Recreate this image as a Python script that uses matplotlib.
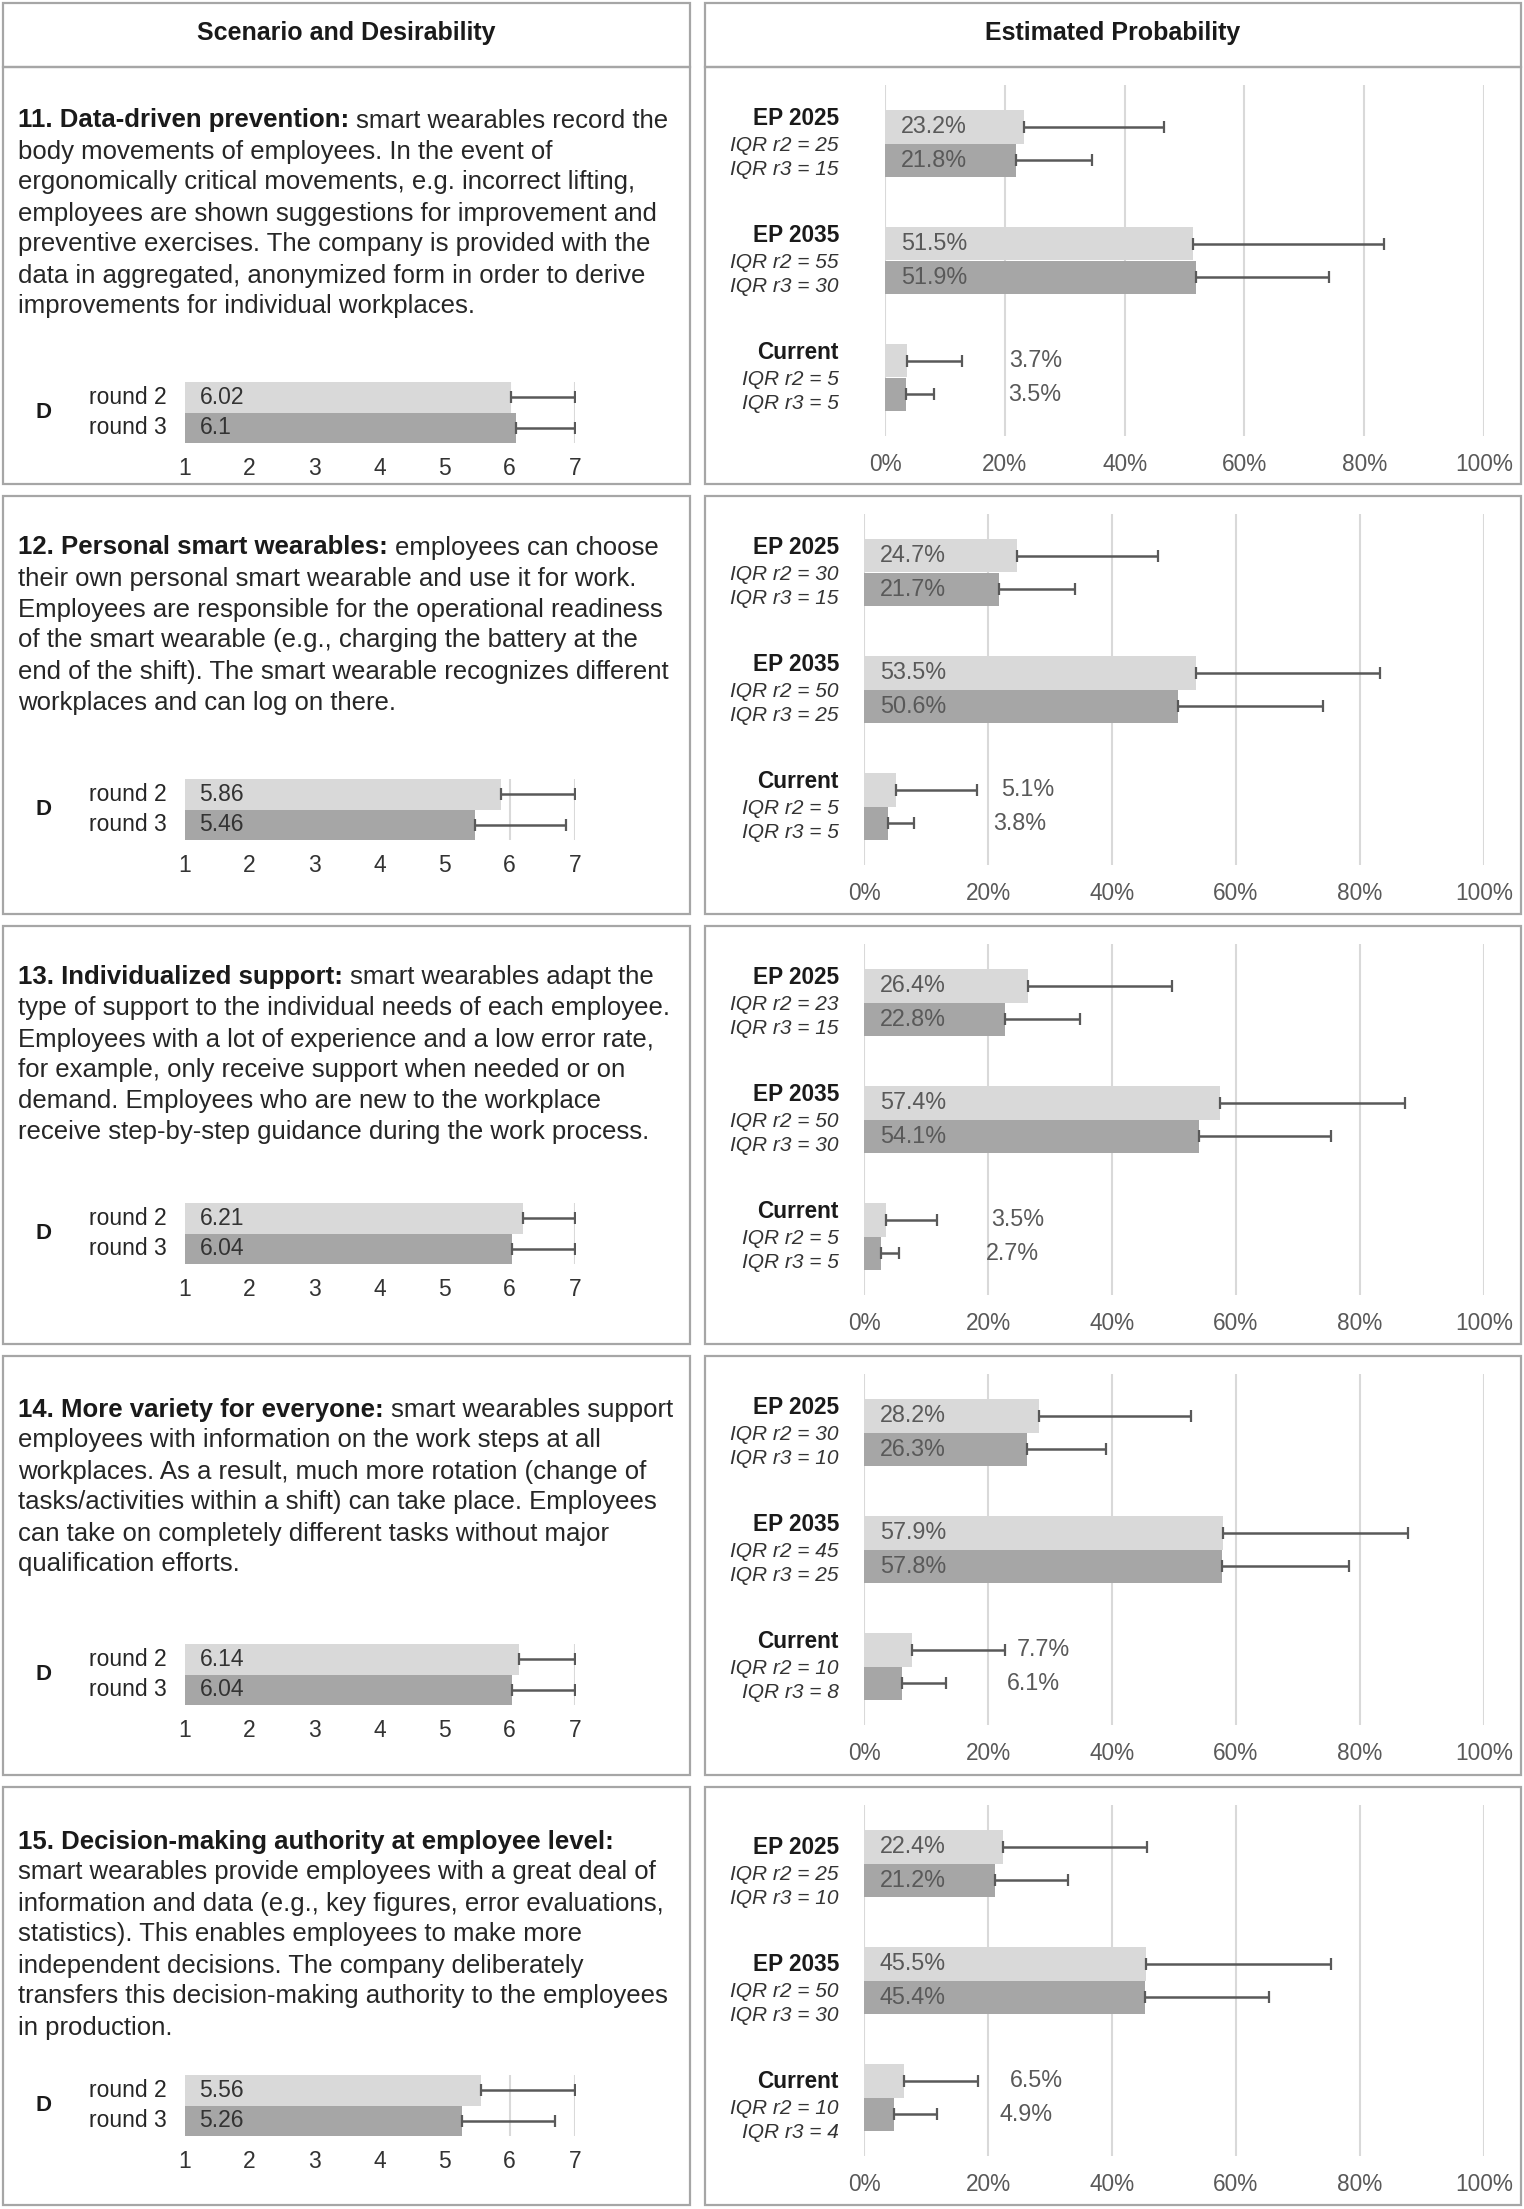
import matplotlib
matplotlib.use("Agg")
import matplotlib.pyplot as plt
from matplotlib.patches import Rectangle
import numpy as np

plt.rcParams['font.family'] = ['Liberation Sans', 'DejaVu Sans']

# data
titles = ["11. Data-driven prevention:",
          "12. Personal smart wearables:",
          "13. Individualized support:",
          "14. More variety for everyone:",
          "15. Decision-making authority at employee level:"]
first_rest = ["smart wearables record the",
              "employees can choose",
              "smart wearables adapt the",
              "smart wearables support",
              ""]
more_lines = [
    ["body movements of employees. In the event of",
     "ergonomically critical movements, e.g. incorrect lifting,",
     "employees are shown suggestions for improvement and",
     "preventive exercises. The company is provided with the",
     "data in aggregated, anonymized form in order to derive",
     "improvements for individual workplaces."],
    ["their own personal smart wearable and use it for work.",
     "Employees are responsible for the operational readiness",
     "of the smart wearable (e.g., charging the battery at the",
     "end of the shift). The smart wearable recognizes different",
     "workplaces and can log on there."],
    ["type of support to the individual needs of each employee.",
     "Employees with a lot of experience and a low error rate,",
     "for example, only receive support when needed or on",
     "demand. Employees who are new to the workplace",
     "receive step-by-step guidance during the work process."],
    ["employees with information on the work steps at all",
     "workplaces. As a result, much more rotation (change of",
     "tasks/activities within a shift) can take place. Employees",
     "can take on completely different tasks without major",
     "qualification efforts."],
    ["smart wearables provide employees with a great deal of",
     "information and data (e.g., key figures, error evaluations,",
     "statistics). This enables employees to make more",
     "independent decisions. The company deliberately",
     "transfers this decision-making authority to the employees",
     "in production."],
]

d_round2 = [6.02, 5.86, 6.21, 6.14, 5.56]
d_round3 = [6.1, 5.46, 6.04, 6.04, 5.26]
d_upper2 = [7, 7, 7, 7, 7]
d_upper3 = [7, 6.87, 7, 7, 6.7]

groups = ["EP 2025", "EP 2035", "Current"]
ep_r2 = [[23.2, 51.5, 3.7], [24.7, 53.5, 5.1], [26.4, 57.4, 3.5], [28.2, 57.9, 7.7], [22.4, 45.5, 6.5]]
ep_r3 = [[21.8, 51.9, 3.5], [21.7, 50.6, 3.8], [22.8, 54.1, 2.7], [26.3, 57.8, 6.1], [21.2, 45.4, 4.9]]
up_r2 = [[46.6, 83.3, 12.8], [47.4, 83.3, 18.2], [49.7, 87.3, 11.7], [52.8, 87.7, 22.7], [45.6, 75.3, 18.4]]
up_r3 = [[34.5, 74.1, 8.2], [34.0, 74.0, 8.1], [34.8, 75.4, 5.6], [39.1, 78.2, 13.2], [32.9, 65.3, 11.7]]
iqr_r2 = [[25, 55, 5], [30, 50, 5], [23, 50, 5], [30, 45, 10], [25, 50, 10]]
iqr_r3 = [[15, 30, 5], [15, 25, 5], [15, 30, 5], [10, 25, 8], [10, 30, 4]]

LIGHT = '#d9d9d9'
DARK = '#a6a6a6'
GRID = '#d9d9d9'
ERR = '#595959'
LINE = '#a6a6a6'

W, H = 1524, 2209
fig = plt.figure(figsize=(W / 100, H / 100), dpi=100)
renderer = fig.canvas.get_renderer()


def fx(x):
    return x / W


def fy(y):
    return 1 - y / H


def px_axes(x0, y0, x1, y1):
    return fig.add_axes([fx(x0), fy(y1), (x1 - x0) / W, (y1 - y0) / H])


def cell(x0, y0, x1, y1):
    fig.add_artist(Rectangle((fx(x0), fy(y1)), (x1 - x0) / W, (y1 - y0) / H,
                             transform=fig.transFigure, fill=False,
                             edgecolor=LINE, lw=1.6))


row_top = [67, 496, 926, 1356, 1787]
row_bot = [484, 914, 1344, 1775, 2205]
text_off = [51, 49, 49, 51, 52]
d_off = [315, 283, 277, 288, 288]
ep_x0 = [885, 864, 864, 864, 864]
label_shift = [0, 0, 0, 0, 9]

# table frame
cell(3, 3, 690, 67)
cell(705, 3, 1521, 67)
for i in range(5):
    cell(3, row_top[i], 690, row_bot[i])
    cell(705, row_top[i], 1521, row_bot[i])

fig.text(fx(346), fy(33), "Scenario and Desirability", ha='center', va='center',
         fontsize=18, fontweight='bold', color='#1a1a1a')
fig.text(fx(1113), fy(33), "Estimated Probability", ha='center', va='center',
         fontsize=18, fontweight='bold', color='#1a1a1a')

TXT = 18.5
for i in range(5):
    y = row_top[i] + text_off[i]
    t = fig.text(fx(18), fy(y), titles[i], ha='left', va='center_baseline',
                 fontsize=TXT, fontweight='bold', color='#1a1a1a')
    if first_rest[i]:
        bb = t.get_window_extent(renderer)
        fig.text(fx(bb.x1 + 7), fy(y), first_rest[i], ha='left',
                 va='center_baseline', fontsize=TXT, color='#262626')
    for j, line in enumerate(more_lines[i]):
        fig.text(fx(18), fy(y + 31 * (j + 1)), line, ha='left',
                 va='center_baseline', fontsize=TXT, color='#262626')

    # desirability chart
    top = row_top[i] + d_off[i]
    ax = px_axes(184.5, top, 574.7, top + 61)
    vals = [d_round2[i], d_round3[i]]
    ups = [d_upper2[i], d_upper3[i]]
    ypos = [0, 1]
    for k in range(2):
        ax.barh(ypos[k], vals[k] - 1, left=1, height=1.0,
                color=[LIGHT, DARK][k], zorder=2,
                xerr=[[0], [ups[k] - vals[k]]],
                error_kw=dict(ecolor=ERR, elinewidth=1.8, capsize=4, capthick=1.6, zorder=3))
        ax.annotate(f"{vals[k]:g}", xy=(1, ypos[k]), xytext=(15, 0),
                    textcoords='offset pixels', ha='left', va='center',
                    fontsize=16.5, color='#333333', zorder=4)
        ax.annotate(["round 2", "round 3"][k], xy=(1, ypos[k]), xytext=(-18, 0),
                    textcoords='offset pixels', ha='right', va='center',
                    fontsize=16.5, color='#262626', annotation_clip=False)
    ax.annotate("D", xy=(1, 0.5), xytext=(-141, 0), textcoords='offset pixels',
                ha='center', va='center', fontsize=16, fontweight='bold',
                color='#1a1a1a', annotation_clip=False)
    ax.set_xlim(1, 7)
    ax.set_ylim(1.5, -0.5)
    ax.set_xticks(range(1, 8))
    ax.set_yticks([])
    ax.grid(axis='x', color=GRID, lw=1.5, zorder=0)
    ax.set_axisbelow(True)
    ax.tick_params(axis='x', length=0, labelsize=16.5, labelcolor='#333333', pad=10)
    for s in ax.spines.values():
        s.set_visible(False)

    # estimated probability chart
    x0 = ep_x0[i]
    top = row_top[i] + 18
    ax = px_axes(x0, top, 1484, top + 351)
    cats = np.arange(3)
    r2 = np.array(ep_r2[i])
    r3 = np.array(ep_r3[i])
    u2 = np.array(up_r2[i])
    u3 = np.array(up_r3[i])
    ax.barh(cats - 0.145, r2, height=0.29, color=LIGHT, zorder=2,
            xerr=[np.zeros(3), u2 - r2],
            error_kw=dict(ecolor=ERR, elinewidth=1.8, capsize=4.5, capthick=1.6, zorder=3))
    ax.barh(cats + 0.145, r3, height=0.29, color=DARK, zorder=2,
            xerr=[np.zeros(3), u3 - r3],
            error_kw=dict(ecolor=ERR, elinewidth=1.8, capsize=4.5, capthick=1.6, zorder=3))
    for k in range(3):
        for v, yy in ((r2[k], k - 0.145), (r3[k], k + 0.145)):
            if k < 2:
                ax.annotate(f"{v:.1f}%", xy=(0, yy), xytext=(16, 0),
                            textcoords='offset pixels', ha='left', va='center',
                            fontsize=16.8, color='#595959', zorder=4)
            else:
                ax.text(v + 17, yy, f"{v:.1f}%", ha='left', va='center',
                        fontsize=16.8, color='#595959', zorder=4)
        dx = 839 - x0
        sh = label_shift[i]
        ax.annotate(groups[k], xy=(0, k), xytext=(dx, 25 - sh), textcoords='offset pixels',
                    ha='right', va='center', fontsize=16.3, fontweight='bold',
                    color='#1a1a1a', annotation_clip=False)
        ax.annotate(f"IQR r2 = {iqr_r2[i][k]}", xy=(0, k), xytext=(dx, -2 - sh),
                    textcoords='offset pixels', ha='right', va='center',
                    fontsize=15, fontstyle='italic', color='#333333',
                    annotation_clip=False)
        ax.annotate(f"IQR r3 = {iqr_r3[i][k]}", xy=(0, k), xytext=(dx, -26 - sh),
                    textcoords='offset pixels', ha='right', va='center',
                    fontsize=15, fontstyle='italic', color='#333333',
                    annotation_clip=False)
    ax.set_xlim(0, 100)
    ax.set_ylim(2.5, -0.5)
    ax.set_xticks(range(0, 101, 20))
    ax.set_xticklabels([f"{v}%" for v in range(0, 101, 20)])
    ax.set_yticks([])
    ax.grid(axis='x', color=GRID, lw=1.5, zorder=0)
    ax.set_axisbelow(True)
    ax.tick_params(axis='x', length=0, labelsize=16.3, labelcolor='#595959', pad=12)
    for s in ax.spines.values():
        s.set_visible(False)

fig.savefig("out.png", dpi=100, facecolor='white')
